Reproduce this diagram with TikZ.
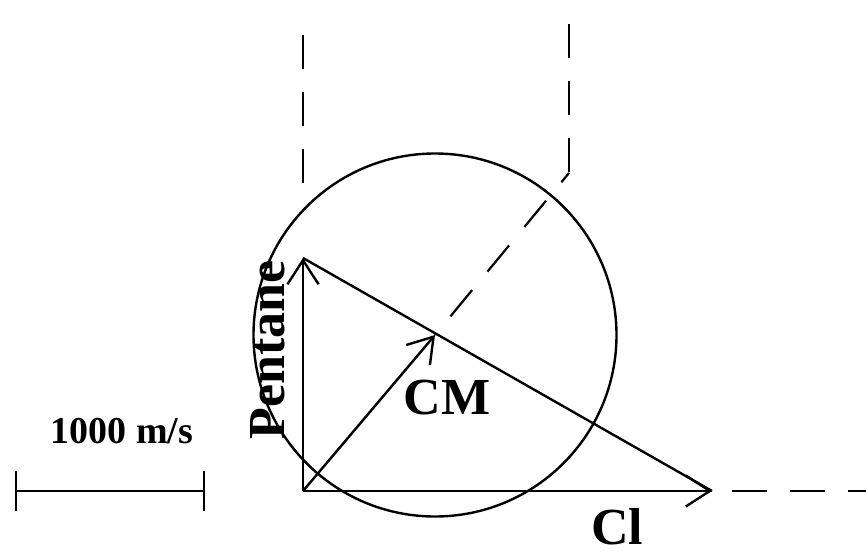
\documentclass[tikz,border=0pt]{standalone}
\usepackage{fontspec}
\setmainfont{Liberation Serif}
\usepackage{tikz}
\usetikzlibrary{arrows.meta, calc}
\tikzset{
  vecline/.style={
    line width=2.4pt, -{Straight Barb[length=24pt, width=31pt]}
  },
  plainline/.style={
    line width=2.4pt
  },
  dashline/.style={
    line width=2.2pt, dash pattern=on 34pt off 23pt
  },
  biglabel/.style={
    font=\fontsize{52}{52}\selectfont\bfseries, inner sep=0pt
  },
  scalelabel/.style={
    font=\fontsize{38}{38}\selectfont\bfseries, inner sep=0pt
  },
}

\begin{document}
\begin{tikzpicture}[x=1pt, y=-1pt]
  \useasboundingbox (0,0) rectangle (866,556);

  % Velocity end points
  \coordinate (origin) at (303,491);
  \coordinate (pentane) at (303,258);
  \coordinate (cl) at (712,491);
  \coordinate (cm) at (435,335);

  % Dashed guide ends
  \coordinate (pentop) at (303,35);
  \coordinate (penbot) at (303,183);
  \coordinate (cmtop) at (569,24);
  \coordinate (cmbend) at (569,173);
  \coordinate (clend) at (866,491);

  % Scale bar ends
  \coordinate (barL) at (15,491);
  \coordinate (barR) at (205,491);

  % Newton circle
  \draw[plainline] (cm) circle[radius=181.5];

  % Vectors
  \draw[vecline] (origin) -- (pentane);
  \draw[vecline] (origin) -- (cl);
  \draw[vecline] (origin) -- (cm);
  \draw[plainline] (pentane) -- (cl);

  % Dashed guides
  \draw[dashline] (pentop) -- (penbot);
  \draw[dashline] (cmtop) -- (cmbend);
  \draw[dashline, dash pattern=on 34pt off 24pt, dash phase=22pt] (cmbend) -- (cm);
  \draw[dashline, dash pattern=on 35pt off 23pt, dash phase=38pt] (cl) -- (clend);

  % Scale bar
  \draw[plainline, {Bar[width=40pt]}-{Bar[width=40pt]}] (barL) -- (barR);
  \node[scalelabel] (scale) at (122,431) {1000 m/s};

  % Labels
  \node[biglabel, rotate=90] (pentlabel) at (268,350) {Pentane};
  \node[biglabel] (cmlabel) at (447,398) {CM};
  \node[biglabel] (cllabel) at (617,527) {Cl};
\end{tikzpicture}
\end{document}
